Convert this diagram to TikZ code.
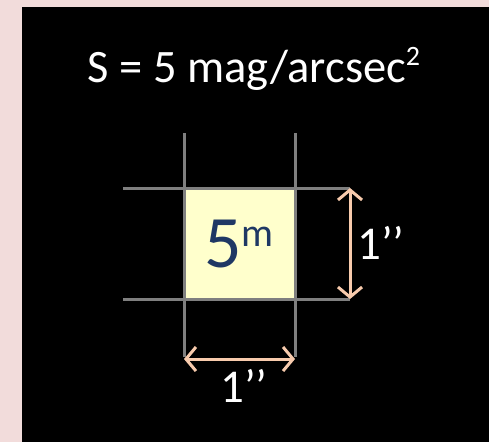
\documentclass[tikz,border=0pt]{standalone}
\usepackage{fontspec}
\setmainfont{Carlito}
\usetikzlibrary{arrows.meta, positioning}
\definecolor{pinkbg}{HTML}{F2DCDB}
\definecolor{gridgray}{HTML}{7F7F7F}
\definecolor{cellyellow}{HTML}{FFFFCC}
\definecolor{magblue}{HTML}{1F3864}
\definecolor{peach}{HTML}{F8CBAD}

\begin{document}
\begin{tikzpicture}[x=1pt, y=-1pt,
    gridline/.style={draw=gridgray, line width=3pt},
    dimarrow/.style={{Straight Barb[length=10pt,width=24pt]}-{Straight Barb[length=10pt,width=24pt]}, draw=peach, line width=3pt},
    dimlabel/.style={text=white, font=\fontsize{47}{50}\selectfont, inner sep=0pt, anchor=base}]
    \useasboundingbox (0,0) rectangle (489,442);
    \fill[pinkbg] (0,0) rectangle (489,442);
    \fill[black] (22,7) rectangle (489,442);

    % title
    \node[text=white, font=\fontsize{46.5}{50}\selectfont, inner sep=0pt, anchor=base] (title) at (254,82)
        {S = 5 mag/arcsec\raisebox{17pt}{\fontsize{28}{30}\selectfont 2}};

    % pixel with its magnitude
    \node[fill=cellyellow, minimum size=111pt, inner sep=0pt] (cell) at (239.5,243.5) {};
    \node[text=magblue, font=\fontsize{74}{78}\selectfont, inner sep=0pt, anchor=base] (mag) at (239,267)
        {5\raisebox{21pt}{\fontsize{40}{44}\selectfont m}};

    % grid
    \draw[gridline] (184,133) -- (184,357);
    \draw[gridline] (295,133) -- (295,357);
    \draw[gridline] (123,188) -- (350,188);
    \draw[gridline] (123,299) -- (350,299);

    % dimensions
    \coordinate (vtop) at (350,188);
    \coordinate (vbot) at (350,299);
    \coordinate (hleft) at (184,359);
    \coordinate (hright) at (295,359);
    \draw[dimarrow] (vtop) -- (vbot);
    \draw[dimarrow] (hleft) -- (hright);
    \node[dimlabel, anchor=base west] (vlab) at (357,259) {1’’};
    \node[dimlabel] (hlab) at (244,402) {1’’};
\end{tikzpicture}
\end{document}
